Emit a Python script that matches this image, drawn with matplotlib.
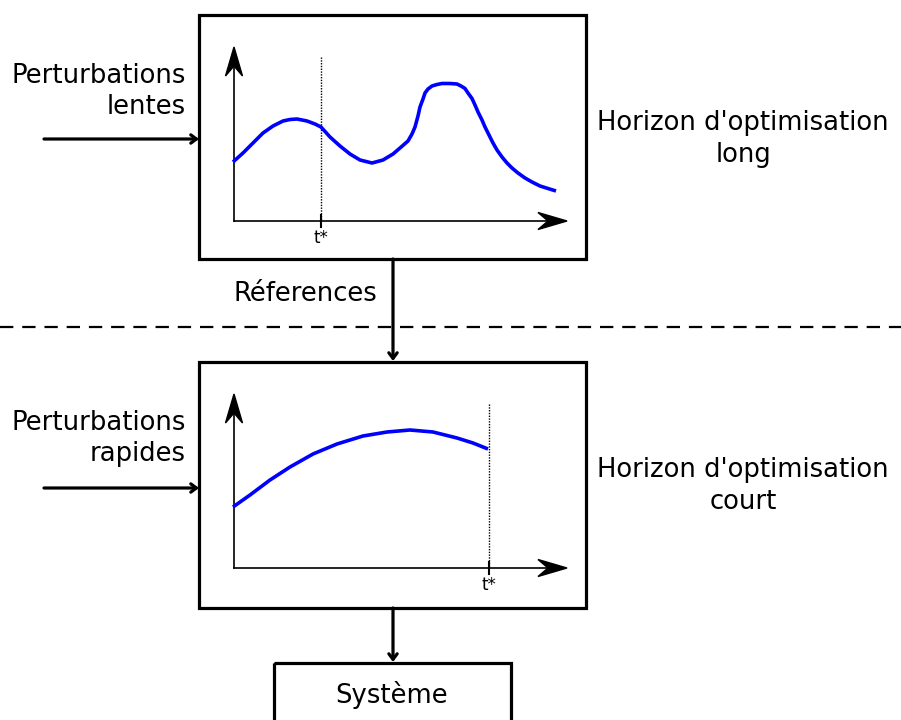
import matplotlib.pyplot as plt
from matplotlib.patches import Rectangle, Polygon, FancyArrowPatch

# curve points (pixel coordinates of the sketch)
slow_x = [233, 243, 253, 263, 273, 283, 290, 297, 307, 315, 321, 330, 340, 350, 360, 372, 383, 393, 400,
          408, 412, 415, 418, 420, 423, 425, 428, 432, 437, 442, 450, 457, 461, 465, 468, 472, 475, 478,
          482, 485, 489, 493, 497, 502, 507, 512, 518, 525, 532, 540, 548, 556]
slow_y = [162, 153, 143, 133, 126, 121, 119.5, 119, 121, 124, 127, 137, 146, 154, 160, 163, 160, 154, 148,
          141, 134, 127, 116, 107, 99, 93, 89, 86, 84.5, 83.5, 83.5, 84, 86, 88.5, 93, 98.5, 105, 112,
          120, 127, 135, 143, 150, 157, 163, 168, 173, 178, 182, 186, 188.5, 191]
fast_x = [233, 250, 270, 290, 313, 337, 363, 387, 410, 433, 457, 473, 488]
fast_y = [507, 495, 480, 467, 454, 444, 436, 432, 430, 432, 438, 443, 449]

labels_left = [("Perturbations", "lentes"), ("Perturbations", "rapides")]
labels_right = [("Horizon d'optimisation", "long"), ("Horizon d'optimisation", "court")]

fig = plt.figure(figsize=(9.01, 7.2), dpi=100)
ax = fig.add_axes([0, 0, 1, 1])
ax.set_xlim(0, 901)
ax.set_ylim(720, 0)
ax.axis('off')

FS = 18.6


def axis_arrow(tip, horizontal):
    # barbed arrowhead like inkscape's
    tx, ty = tip
    if horizontal:
        pts = [(tx, ty), (tx - 29, ty - 8.5), (tx - 19, ty), (tx - 29, ty + 8.5)]
    else:
        pts = [(tx, ty), (tx - 8.5, ty + 29), (tx, ty + 19), (tx + 8.5, ty + 29)]
    ax.add_patch(Polygon(pts, closed=True, color='black', zorder=4))


def panel(top, bottom, t_x):
    ax.add_patch(Rectangle((199, top), 387, bottom - top, fill=False, lw=2.3, ec='black'))
    ox, oy = 234, top + 206
    ax.plot([ox, ox], [oy, top + 50], color='black', lw=1.2)
    ax.plot([ox, 555], [oy, oy], color='black', lw=1.2)
    axis_arrow((ox, top + 32), False)
    axis_arrow((567, oy), True)
    ax.plot([t_x, t_x], [top + 42, oy], color='black', lw=1, ls=(0, (1, 1)))
    ax.plot([t_x, t_x], [oy - 6, oy + 6], color='black', lw=1.5)
    ax.text(t_x, oy + 17, "t*", fontsize=12, ha='center', va='center')


panel(15, 259, 321)
panel(362, 608, 489)

ax.plot(slow_x, slow_y, color='#0000ff', lw=2.6, solid_joinstyle='round', solid_capstyle='butt', zorder=3)
ax.plot(fast_x, fast_y, color='#0000ff', lw=2.6, solid_joinstyle='round', solid_capstyle='butt', zorder=3)

# left disturbance arrows and labels
for (l1, l2), y_arrow, y_txt in zip(labels_left, [139, 488], [76, 423]):
    ax.add_patch(FancyArrowPatch((44, y_arrow), (199, y_arrow), arrowstyle='->,head_length=4,head_width=3',
                                 lw=2.3, color='black', shrinkA=0, shrinkB=0))
    ax.text(186, y_txt, l1, fontsize=FS, ha='right', va='center')
    ax.text(186, y_txt + 31, l2, fontsize=FS, ha='right', va='center')

for (l1, l2), y_txt in zip(labels_right, [123, 470]):
    ax.text(743, y_txt, l1, fontsize=FS, ha='center', va='center')
    ax.text(743, y_txt + 32, l2, fontsize=FS, ha='center', va='center')

# references link between the two levels
ax.add_patch(FancyArrowPatch((393, 259), (393, 361), arrowstyle='->,head_length=4,head_width=3',
                             lw=2.3, color='black', shrinkA=0, shrinkB=0))
ax.text(305, 294, "Réferences", fontsize=FS, ha='center', va='center')
ax.plot([0, 901], [327, 327], color='black', lw=1.6, ls=(0, (6, 4)))

# system block
ax.add_patch(FancyArrowPatch((393, 608), (393, 662), arrowstyle='->,head_length=4,head_width=3',
                             lw=2.3, color='black', shrinkA=0, shrinkB=0))
ax.add_patch(Rectangle((274, 663), 237, 80, fill=False, lw=2.3, ec='black'))
ax.text(392, 695, "Système", fontsize=FS, ha='center', va='center')

fig.savefig("out.png", dpi=100)
